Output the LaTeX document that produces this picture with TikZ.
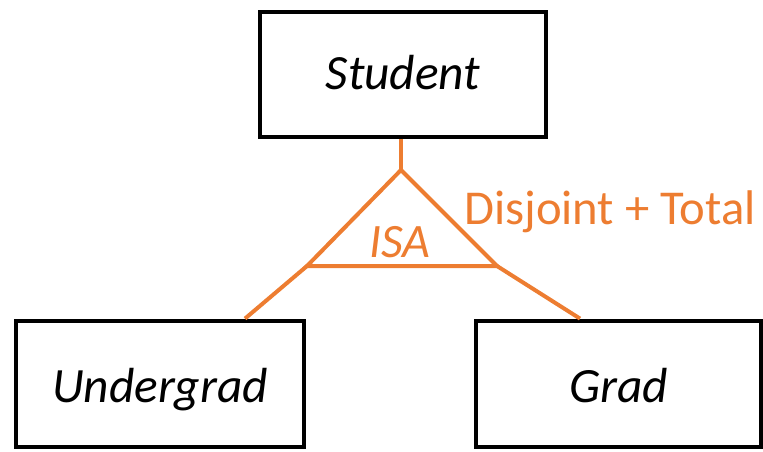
\documentclass[tikz,border=0pt]{standalone}
\usepackage{fontspec}
\setmainfont{Carlito}
\definecolor{isaorange}{HTML}{ED7D31}
\begin{document}
\begin{tikzpicture}[x=0.75pt,y=-0.75pt,
  entity/.style={draw=black, line width=3.6pt, fill=white, inner sep=0pt,
    text height=22.5pt, text depth=0pt,
    font=\fontsize{37}{44}\selectfont\itshape},
  isaline/.style={draw=isaorange, line width=3pt},
  isalabel/.style={text=isaorange, inner sep=0pt, font=\fontsize{36.5}{44}\selectfont}]
\useasboundingbox (0,0) rectangle (763,451);

% entity sets
\node[entity, minimum width=286*0.75pt, minimum height=125*0.75pt] (student) at (403,74.5) {Student};
\node[entity, minimum width=288*0.75pt, minimum height=126*0.75pt] (undergrad) at (160,384) {\raisebox{-2.25pt}{Undergrad}};
\node[entity, minimum width=285*0.75pt, minimum height=126*0.75pt] (grad) at (618.5,384) {\raisebox{-2.25pt}{Grad}};

% ISA triangle
\coordinate (apex) at (401,170);
\coordinate (bl) at (307,266);
\coordinate (br) at (497,266);
\draw[isaline, line join=miter] (apex) -- (bl) -- (br) -- cycle;
\draw[isaline] (apex |- student.south) -- (apex);
\draw[isaline] (bl) -- (undergrad.north -| 245,0);
\draw[isaline] (br) -- (grad.north -| 580,0);

% labels
\node[isalabel, font=\fontsize{36}{44}\selectfont\itshape, anchor=base] (isa) at (400,257) {ISA};
\node[isalabel, anchor=base west] (constraint) at (464,224) {Disjoint + Total};
\end{tikzpicture}
\end{document}
